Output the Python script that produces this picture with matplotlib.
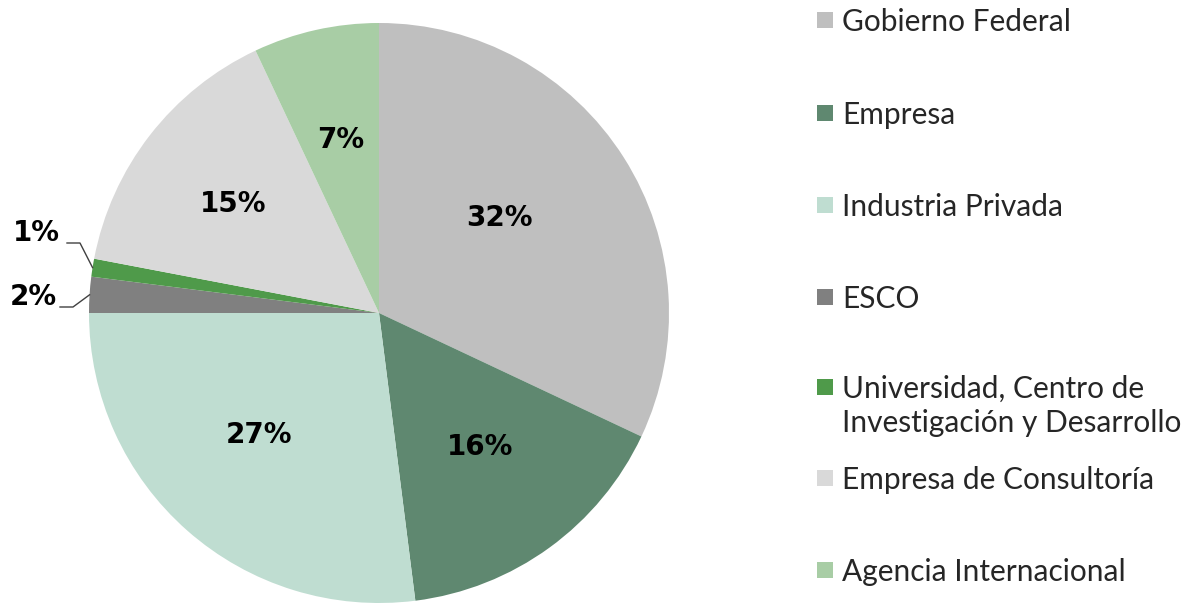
import matplotlib.pyplot as plt
import numpy as np
from matplotlib.patches import Rectangle

# data
categories = ['Gobierno Federal', 'Empresa', 'Industria Privada', 'ESCO',
              'Universidad, Centro de\nInvestigación y Desarrollo',
              'Empresa de Consultoría', 'Agencia Internacional']
shares = [32, 16, 27, 2, 1, 15, 7]
colors = ['#BFBFBF', '#5F8870', '#BFDDD1', '#808080', '#4F9A4A', '#D9D9D9', '#A8CDA5']

W, H = 1204, 603
fig = plt.figure(figsize=(W / 100, H / 100), dpi=100)
fig.patch.set_facecolor('white')

# pie axes: centre (379, 313) px, radius 290 px
R = 290
cx, cy = 379, 313
ax = fig.add_axes([(cx - R) / W, (H - cy - R) / H, 2 * R / W, 2 * R / H])
wedges, _ = ax.pie(shares, colors=colors, startangle=90, counterclock=False,
                   radius=1, wedgeprops=dict(linewidth=0))
ax.set_xlim(-1, 1)
ax.set_ylim(-1, 1)
ax.set_aspect('equal')
ax.axis('off')

# inside labels (radius fraction per slice, None = outside label)
label_r = [0.53, 0.58, 0.59, None, None, 0.63, 0.61]
label_da = [6, 1, -3, 0, 0, 1, 0]
for w, v, r, da in zip(wedges, shares, label_r, label_da):
    mid = np.deg2rad((w.theta1 + w.theta2) / 2 + da)
    if r is not None:
        ax.text(r * np.cos(mid), r * np.sin(mid), f'{v}%', ha='center', va='center',
                fontsize=20, fontweight='bold', family='DejaVu Sans')

# outside labels with leader lines for small slices
def px(x, y):
    return ((x - cx) / R, (cy - y) / R)

outside = {3: ((57, 297), [(60, 307), (73, 307)]),
           4: ((60, 233), [(67, 243), (80, 243)])}
for i, (tpos, pts) in outside.items():
    w = wedges[i]
    mid = np.deg2rad((w.theta1 + w.theta2) / 2)
    edge = (np.cos(mid), np.sin(mid))
    tx, ty = px(*tpos)
    ax.text(tx, ty, f'{shares[i]}%', ha='right', va='center', fontsize=20,
            fontweight='bold', family='DejaVu Sans', clip_on=False)
    xs = [px(*p)[0] for p in pts] + [edge[0]]
    ys = [px(*p)[1] for p in pts] + [edge[1]]
    ax.plot(xs, ys, color='#404040', lw=1, clip_on=False)

# legend drawn by hand (square y, text centre y)
legend_y = [20, 113, 205, 297, 387, 478, 570]
text_y = [22, 115, 207, 299, 406, 480, 572]
for lab, col, y, ty in zip(categories, colors, legend_y, text_y):
    fig.patches.append(Rectangle((817 / W, 1 - (y + 8) / H), 16 / W, 16 / H,
                                 transform=fig.transFigure, facecolor=col,
                                 edgecolor='none'))
    fig.text(842 / W, 1 - ty / H, lab, ha='left', va='center', fontsize=21.5,
             family='Lato', color='#262626', linespacing=1.25)

fig.savefig('out.png', dpi=100)
